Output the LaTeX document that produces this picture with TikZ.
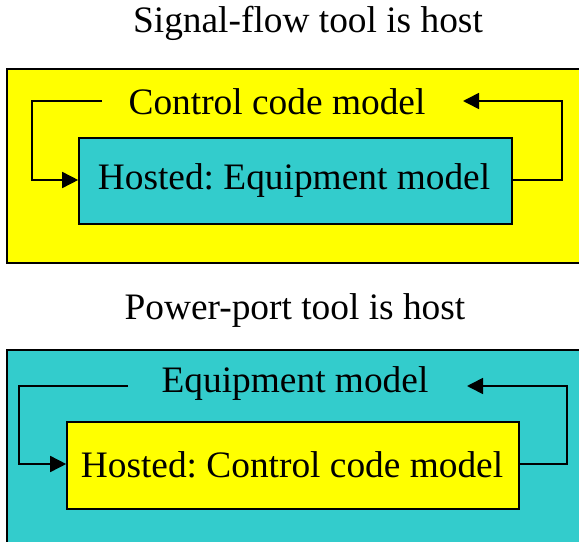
\documentclass[tikz,border=0pt]{standalone}
\usepackage{fontspec}
\setmainfont{Liberation Serif}
\usetikzlibrary{arrows.meta}
\definecolor{hostyellow}{HTML}{FFFF00}
\definecolor{hostteal}{HTML}{33CCCC}
\frenchspacing
\begin{document}
\begin{tikzpicture}[x=1bp,y=-1bp,
  box/.style={draw=black, line width=1.6bp, inner sep=0pt, minimum width=#1},
  lbl/.style={font=\fontsize{37.5}{42}\selectfont, inner sep=0pt},
  conn/.style={draw=black, line width=1.6bp, -{Triangle[length=16bp,width=16bp]}},
  plain/.style={draw=black, line width=1.6bp}]
\useasboundingbox (0,0) rectangle (579,542);
\clip (0,0) rectangle (579,542);
% top
\node[lbl] (t1) at (308,23) {Signal-flow tool is host};
\node[box=578bp, minimum height=194bp, fill=hostyellow] (o1) at (296,166) {};
\node[box=433bp, minimum height=86bp, fill=hostteal] (i1) at (295.5,181) {};
\node[lbl] (h1) at (294,181) {Hosted: Equipment model};
\node[lbl] (c1) at (277,102) {Control code model};
\coordinate (a1) at (102,101);
\coordinate (b1) at (463,101);
\draw[conn] (a1) -| (32,180) -- (i1.west |- 0,180);
\draw[conn] (i1.east |- 0,180) -- (562,180) |- (b1);
% bottom
\node[lbl] (t2) at (295,311) {Power-port tool is host};
\node[box=578bp, minimum height=210bp, fill=hostteal] (o2) at (296,455) {};
\node[box=452bp, minimum height=87bp, fill=hostyellow] (i2) at (293,465.5) {};
\node[lbl] (h2) at (292,465) {Hosted: Control code model};
\node[lbl] (c2) at (295,384) {Equipment model};
\coordinate (a2) at (128,386);
\coordinate (b2) at (467,386);
\draw[conn] (a2) -| (19,464) -- (i2.west |- 0,464);
\draw[conn] (i2.east |- 0,464) -- (567,464) |- (b2);
\end{tikzpicture}
\end{document}
